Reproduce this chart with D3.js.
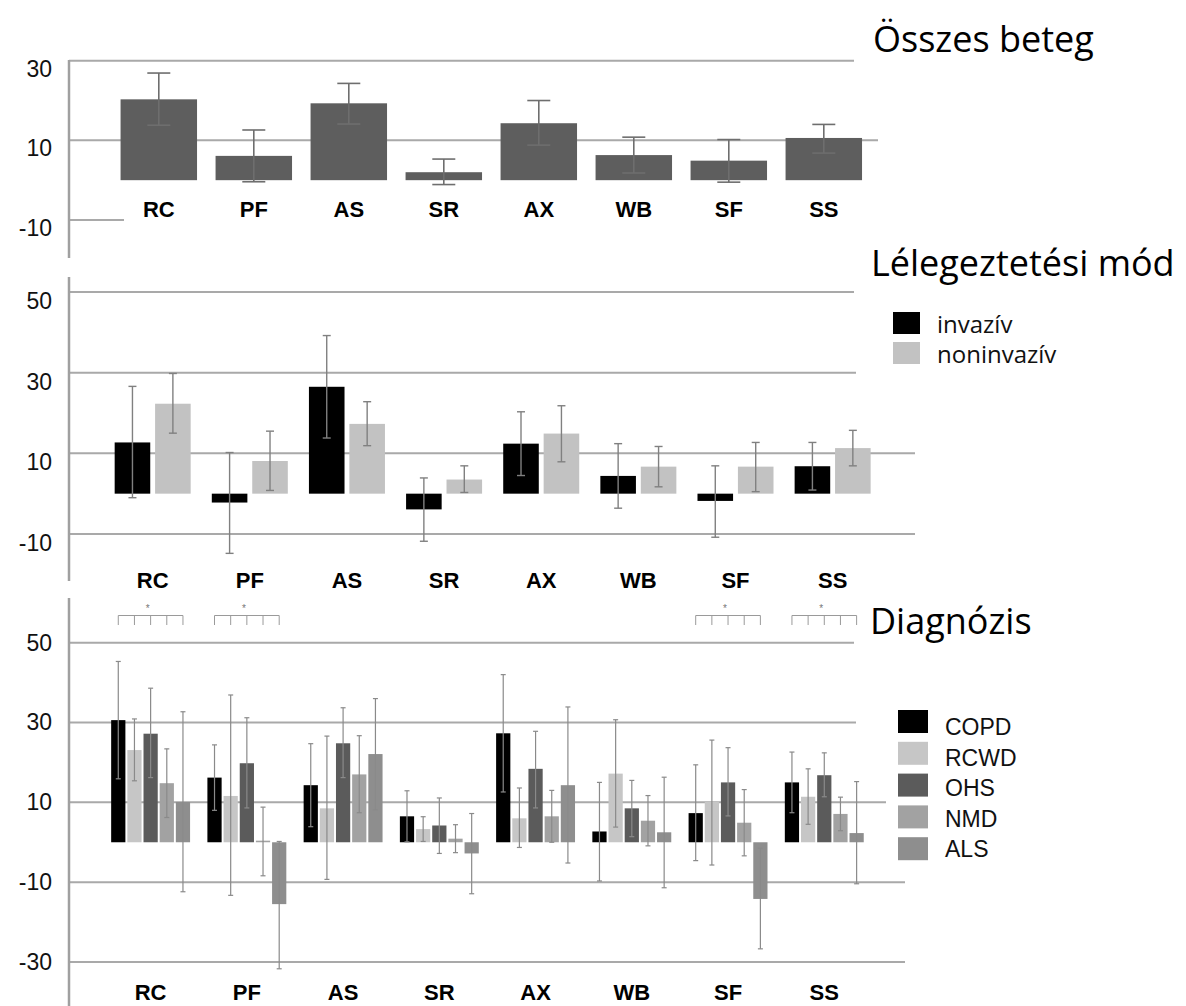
<!DOCTYPE html>
<html>
<head>
<meta charset="utf-8">
<script src="https://cdn.jsdelivr.net/npm/d3@7"></script>
<style>
  body { margin: 0; background: #fff; }
  svg { display: block; }
</style>
</head>
<body>
<svg id="drawing_region"></svg>
<script>
// categories shared by all three panels
const categories = ['RC', 'PF', 'AS', 'SR', 'AX', 'WB', 'SF', 'SS'];

// panel 1: Összes beteg
const totalMean = [20.3, 6.1, 19.3, 2.0, 14.3, 6.3, 4.9, 10.6];
const totalLow  = [13.8, -0.4, 14.1, -1.1, 8.8, 1.8, -0.5, 6.8];
const totalHigh = [26.9, 12.6, 24.3, 5.3, 20.0, 10.8, 10.2, 14.0];
const totalTicks = [30, 10, -10];

// panel 2: Lélegeztetési mód
const modeNames = ['invazív', 'noninvazív'];
const invMean = [12.7, -2.2, 26.5, -3.9, 12.4, 4.4, -1.8, 6.8];
const invLow  = [-1.0, -14.8, 13.8, -11.8, 4.5, -3.6, -10.8, 0.9];
const invHigh = [26.6, 10.2, 39.2, 3.9, 20.3, 12.4, 6.9, 12.7];
const nonMean = [22.3, 8.1, 17.3, 3.5, 14.9, 6.7, 6.7, 11.3];
const nonLow  = [15.0, 0.8, 11.9, 0.3, 7.9, 1.7, 0.5, 6.9];
const nonHigh = [29.8, 15.5, 22.8, 6.9, 21.8, 11.7, 12.7, 15.7];
const modeTicks = [50, 30, 10, -10];

// panel 3: Diagnózis
const diagNames = ['COPD', 'RCWD', 'OHS', 'NMD', 'ALS'];
const copdMean = [30.6, 16.2, 14.3, 6.5, 27.3, 2.7, 7.3, 15.0];
const copdLow  = [15.9, 8.0, 3.9, 0.1, 12.6, -9.7, -4.6, 7.4];
const copdHigh = [45.3, 24.4, 24.7, 12.9, 42.0, 15.0, 19.4, 22.6];
const rcwdMean = [23.1, 11.6, 8.5, 3.3, 6.0, 17.2, 10.1, 11.4];
const rcwdLow  = [15.4, -13.3, -9.3, 0.2, -1.3, 3.8, -5.7, 4.5];
const rcwdHigh = [30.9, 36.9, 26.6, 6.4, 13.6, 30.7, 25.6, 18.4];
const ohsMean = [27.2, 19.8, 24.8, 4.2, 18.4, 8.5, 15.0, 16.8];
const ohsLow  = [16.2, 8.6, 16.2, -2.8, 8.6, 1.4, 6.6, 11.4];
const ohsHigh = [38.6, 31.2, 33.7, 11.1, 27.8, 15.5, 23.7, 22.4];
const nmdMean = [14.8, 0.4, 17.0, 0.9, 6.5, 5.4, 4.9, 7.1];
const nmdLow  = [6.2, -8.4, 7.4, -2.6, 0.0, -0.9, -3.4, 2.9];
const nmdHigh = [23.4, 8.8, 26.7, 4.4, 13.0, 11.7, 13.2, 11.3];
const alsMean = [10.1, -15.5, 22.1, -2.8, 14.3, 2.5, -14.2, 2.3];
const alsLow  = [-12.4, -31.7, 8.1, -12.9, -5.2, -11.4, -26.7, -10.4];
const alsHigh = [32.7, 0.2, 36.0, 7.2, 33.9, 16.3, -1.5, 15.2];
const diagTicks = [50, 30, 10, -10, -30];
const significant = ['RC', 'PF', 'SF', 'SS'];

const num_font = '"Liberation Sans", Arial, sans-serif';
const title_font = '"Open Sans", "Noto Sans", sans-serif';

const svg = d3.select('#drawing_region')
    .attr('width', 1186)
    .attr('height', 1006);

svg.append('rect')
    .attr('width', 1186)
    .attr('height', 1006)
    .attr('fill', '#fff');

function makeSeries(names, means, lows, highs) {
    let rows = [];
    categories.forEach((c, i) => {
        names.forEach((n, k) => {
            rows.push({cat: c, key: n, mean: means[k][i], low: lows[k][i], high: highs[k][i]});
        });
    });
    return rows;
}

class ErrorBarChart {

    constructor( config ) {
        this.config = config;
        this.init();
    }

    init() {
        let self = this;
        const c = self.config;

        self.chart = svg.append('g');

        self.yscale = d3.scaleLinear()
            .domain(c.ydomain)
            .range(c.yrange);

        self.xscale = d3.scaleBand()
            .domain(categories)
            .range(c.xrange)
            .paddingInner(c.padding)
            .paddingOuter(c.padding / 2);

        self.subscale = d3.scaleBand()
            .domain(c.keys)
            .range([0, self.xscale.bandwidth()])
            .paddingInner(c.subPadding);

        // grid lines (each one stops at its own length, like the source)
        self.chart.selectAll('.grid')
            .data(c.ticks)
            .join('line')
            .attr('class', 'grid')
            .attr('x1', c.axisX)
            .attr('x2', (d, i) => c.gridEnd[i])
            .attr('y1', d => self.yscale(d))
            .attr('y2', d => self.yscale(d))
            .attr('stroke', '#a9a9a9')
            .attr('stroke-width', 2);

        self.chart.append('line')
            .attr('x1', c.axisX)
            .attr('x2', c.axisX)
            .attr('y1', c.axisTop)
            .attr('y2', c.axisBottom)
            .attr('stroke', '#a0a0a0')
            .attr('stroke-width', 2.5);

        self.yaxis = d3.axisLeft( self.yscale )
            .tickValues(c.ticks)
            .tickSize(0)
            .tickPadding(c.axisX - 52)
            .tickFormat(d => String(d));

        self.yaxis_group = self.chart.append('g')
            .attr('transform', `translate(${c.axisX}, ${c.labelShift})`)
            .call(self.yaxis);
        self.yaxis_group.select('.domain').remove();
        self.yaxis_group
            .attr('font-family', num_font)
            .attr('font-size', 23)
            .selectAll('text').attr('fill', '#111');

        self.xaxis = d3.axisBottom( self.xscale )
            .tickSize(0)
            .tickPadding(0);

        self.xaxis_group = self.chart.append('g')
            .attr('transform', `translate(0, ${c.catY})`)
            .call(self.xaxis);
        self.xaxis_group.select('.domain').remove();
        self.xaxis_group
            .attr('font-family', num_font)
            .attr('font-size', 22)
            .attr('font-weight', 'bold')
            .selectAll('text')
            .attr('y', 0)
            .attr('dy', 0)
            .attr('fill', '#000');
    }

    render(data) {
        let self = this;
        const c = self.config;
        const y0 = self.yscale(0);
        const cx = d => self.xscale(d.cat) + self.subscale(d.key) + self.subscale.bandwidth() / 2;

        self.chart.selectAll('.bar').data(data)
            .join('rect')
            .attr('class', 'bar')
            .attr('x', d => self.xscale(d.cat) + self.subscale(d.key))
            .attr('y', d => Math.min(self.yscale(d.mean), y0))
            .attr('width', self.subscale.bandwidth())
            .attr('height', d => Math.abs(self.yscale(d.mean) - y0))
            .attr('fill', d => c.colors[c.keys.indexOf(d.key)]);

        const err = self.chart.selectAll('.err').data(data)
            .join('g')
            .attr('class', 'err')
            .attr('stroke', c.errColor)
            .attr('stroke-width', c.errWidth);

        err.append('line')
            .attr('x1', cx).attr('x2', cx)
            .attr('y1', d => self.yscale(d.low))
            .attr('y2', d => self.yscale(d.high));

        ['low', 'high'].forEach(k => {
            err.append('line')
                .attr('x1', d => cx(d) - c.cap / 2)
                .attr('x2', d => cx(d) + c.cap / 2)
                .attr('y1', d => self.yscale(d[k]))
                .attr('y2', d => self.yscale(d[k]));
        });
    }

    brackets(cats) {
        let self = this;
        const keys = self.config.keys;
        const first = d => self.xscale(d) + self.subscale(keys[0]) + self.subscale.bandwidth() / 2;
        const last = d => self.xscale(d) + self.subscale(keys[keys.length - 1]) + self.subscale.bandwidth() / 2;

        const g = self.chart.selectAll('.bracket').data(cats)
            .join('g')
            .attr('class', 'bracket')
            .attr('stroke', '#9a9a9a')
            .attr('stroke-width', 1);

        g.append('line')
            .attr('x1', first).attr('x2', last)
            .attr('y1', 615.5).attr('y2', 615.5);

        keys.forEach((k, i) => {
            g.append('line')
                .attr('x1', d => first(d) + (last(d) - first(d)) * i / (keys.length - 1))
                .attr('x2', d => first(d) + (last(d) - first(d)) * i / (keys.length - 1))
                .attr('y1', 615.5).attr('y2', 625);
        });

        g.append('text')
            .attr('x', d => (first(d) + last(d)) / 2 - 3)
            .attr('y', 612)
            .attr('text-anchor', 'middle')
            .attr('stroke', 'none')
            .attr('fill', '#777')
            .attr('font-family', num_font)
            .attr('font-size', 10)
            .text('*');
    }
}

// ---- panel 1
const total_chart = new ErrorBarChart({
    ydomain: [-10, 30], yrange: [220, 60.7],
    xrange: [111.3, 871.3], padding: 0.195,
    keys: ['total'], subPadding: 0,
    ticks: totalTicks, gridEnd: [854, 878, 124],
    axisX: 69, axisTop: 60, axisBottom: 258,
    labelShift: 8, catY: 217,
    colors: ['#5e5e5e'], errColor: '#6e6e6e', errWidth: 1.6, cap: 23
});
total_chart.render(makeSeries(['total'], [totalMean], [totalLow], [totalHigh]));

// ---- panel 2
const mode_colors = ['#000000', '#c2c2c2'];
const mode_chart = new ErrorBarChart({
    ydomain: [-10, 50], yrange: [534, 292],
    xrange: [104.1, 881.2], padding: 0.2175,
    keys: modeNames, subPadding: 0.12,
    ticks: modeTicks, gridEnd: [854, 856, 915, 915],
    axisX: 69, axisTop: 277, axisBottom: 581,
    labelShift: 9, catY: 588,
    colors: mode_colors, errColor: '#808080', errWidth: 1.4, cap: 8
});
mode_chart.render(makeSeries(modeNames, [invMean, nonMean], [invLow, nonLow], [invHigh, nonHigh]));

// ---- panel 3
const diag_colors = ['#000000', '#c6c6c6', '#5b5b5b', '#a2a2a2', '#8e8e8e'];
const diag_chart = new ErrorBarChart({
    ydomain: [-30, 50], yrange: [962, 642.7],
    xrange: [102.5, 872.4], padding: 0.18,
    keys: diagNames, subPadding: 0.12,
    ticks: diagTicks, gridEnd: [854, 856, 886, 905, 905],
    axisX: 69, axisTop: 598, axisBottom: 1006,
    labelShift: 0, catY: 1000,
    colors: diag_colors, errColor: '#8a8a8a', errWidth: 1.2, cap: 5
});
diag_chart.render(makeSeries(diagNames,
    [copdMean, rcwdMean, ohsMean, nmdMean, alsMean],
    [copdLow, rcwdLow, ohsLow, nmdLow, alsLow],
    [copdHigh, rcwdHigh, ohsHigh, nmdHigh, alsHigh]));
diag_chart.brackets(significant);

// ---- titles
svg.selectAll('.title')
    .data([
        {text: 'Összes beteg', x: 873, y: 52},
        {text: 'Lélegeztetési mód', x: 871, y: 276},
        {text: 'Diagnózis', x: 870, y: 634}
    ])
    .join('text')
    .attr('class', 'title')
    .attr('x', d => d.x)
    .attr('y', d => d.y)
    .attr('font-family', title_font)
    .attr('font-size', 36)
    .attr('fill', '#000')
    .text(d => d.text);

// ---- legends
const mode_legend = svg.append('g')
    .attr('transform', 'translate(893, 312)');
mode_legend.selectAll('rect').data(modeNames)
    .join('rect')
    .attr('x', 0)
    .attr('y', (d, i) => i * 30)
    .attr('width', 27)
    .attr('height', 22)
    .attr('fill', (d, i) => mode_colors[i]);
mode_legend.selectAll('text').data(modeNames)
    .join('text')
    .attr('x', 44)
    .attr('y', (d, i) => 21 + i * 30)
    .attr('font-family', title_font)
    .attr('font-size', 24)
    .attr('fill', '#111')
    .text(d => d);

const diag_legend = svg.append('g')
    .attr('transform', 'translate(898, 710)');
diag_legend.selectAll('rect').data(diagNames)
    .join('rect')
    .attr('x', 0)
    .attr('y', (d, i) => i * 31.8)
    .attr('width', 30)
    .attr('height', 23)
    .attr('fill', (d, i) => diag_colors[i]);
diag_legend.selectAll('text').data(diagNames)
    .join('text')
    .attr('x', 47)
    .attr('y', (d, i) => 25 + i * 30.6)
    .attr('font-family', num_font)
    .attr('font-size', 23)
    .attr('fill', '#111')
    .text(d => d);
</script>
</body>
</html>
